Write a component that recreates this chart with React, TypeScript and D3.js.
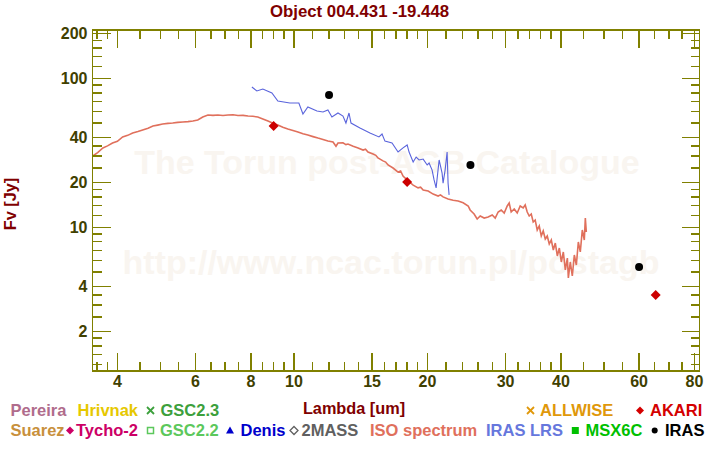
import React from "react";
import * as d3 from "d3";

const title = "Object 004.431 -19.448";

const xMajorTicks = [4, 6, 8, 10, 15, 20, 30, 40, 60, 80];
const xMinorTicks = [3.6, 3.8, 4.5, 5, 5.5, 6.5, 7, 7.5, 8.5, 9, 9.5, 11, 12, 13, 14, 16, 17, 18, 19, 22, 24, 26, 28, 32, 34, 36, 38, 45, 50, 55, 65, 70, 75];
const yMajorTicks = [2, 4, 10, 20, 40, 100, 200];
const yMinorTicks = [1.2, 1.4, 1.6, 1.8, 2.5, 3, 3.5, 5, 6, 7, 8, 9, 12, 14, 16, 18, 25, 30, 35, 50, 60, 70, 80, 90, 120, 140, 160, 180];

// ISO spectrum [lambda um, flux Jy]
const isoLambda = [
  3.52, 3.61, 3.71, 3.8, 3.9, 4.0, 4.11, 4.22, 4.33, 4.45, 4.56, 4.69, 4.81, 4.93, 5.06, 5.2, 5.33, 5.47, 5.62, 5.77,
  5.92, 6.07, 6.23, 6.4, 6.57, 6.74, 6.92, 7.1, 7.29, 7.48, 7.68, 7.88, 8.08, 8.29, 8.51, 8.74, 8.97, 9.2, 9.44, 9.69,
  9.95, 10.21, 10.48, 10.75, 11.04, 11.33, 11.63, 11.93, 12.25, 12.44, 12.57, 12.9, 13.1, 13.24, 13.6, 13.95, 14.32, 14.5, 14.69, 15.08,
  15.3, 15.47, 15.88, 16.1, 16.3, 16.73, 17.17, 17.4, 17.62, 18.09, 18.57, 19.05, 19.3, 19.56, 20.07, 20.6, 21.14, 21.4, 21.69, 22.26,
  22.85, 23.45, 24.07, 24.71, 24.96, 25.48, 25.89, 26.3, 26.85, 27.41, 27.99, 28.43, 28.87, 29.33, 29.79, 30.26, 30.57, 30.89, 31.38, 31.87,
  32.37, 32.87, 33.22, 33.57, 33.92, 34.28, 34.63, 34.99, 35.36, 35.73, 36.11, 36.48, 36.87, 37.25, 37.64, 38.04, 38.44, 38.84, 39.25, 39.66,
  40.07, 40.49, 40.91, 41.35, 41.56, 41.98, 42.42, 42.87, 43.32, 43.77, 44.22, 44.68, 45.15, 45.39, 45.62,
];
const isoFlux = [
  30.1, 31.7, 34.1, 35.2, 36.8, 37.8, 40.4, 41.4, 42.9, 43.9, 45.0, 46.3, 47.8, 48.5, 49.3, 49.8, 50.1, 50.6, 50.9, 51.2,
  51.7, 52.5, 55.0, 56.7, 56.4, 56.7, 56.3, 56.7, 56.9, 56.3, 56.4, 55.9, 55.6, 55.0, 53.3, 51.7, 50.0, 48.6, 47.0, 45.7,
  44.6, 43.6, 42.4, 41.6, 40.6, 39.7, 38.9, 37.9, 37.4, 35.0, 36.8, 36.9, 35.9, 36.2, 35.0, 34.1, 33.0, 33.4, 32.0, 31.0,
  30.4, 29.2, 27.9, 27.4, 26.2, 25.0, 23.5, 23.9, 22.1, 20.5, 19.2, 18.4, 18.6, 17.8, 17.5, 16.7, 16.2, 16.5, 16.0, 15.5,
  15.2, 15.0, 14.6, 13.9, 13.07, 12.28, 11.37, 11.91, 11.54, 11.72, 12.09, 11.54, 12.67, 13.07, 12.47, 13.9, 14.56, 12.67, 13.27, 12.47,
  13.9, 13.48, 14.12, 12.67, 11.91, 12.28, 10.85, 11.19, 9.59, 10.2, 8.74, 9.45, 8.35, 8.74, 7.72, 8.22, 7.04, 7.84, 6.42, 7.26,
  5.85, 6.83, 5.17, 6.22, 4.57, 5.85, 4.71, 6.52, 5.58, 7.97, 6.83, 9.59, 8.22, 11.54, 9.3,
];

// IRAS LRS spectrum
const lrsLambda = [
  8.04, 8.25, 8.51, 8.92, 9.2, 9.79, 10.26, 10.48, 10.75, 11.27, 11.63, 11.93, 12.18, 12.57, 12.9, 13.1, 13.31, 13.45, 14.09, 14.84,
  15.55, 15.8, 16.04, 16.64, 17.17, 17.62, 18.0, 18.18, 18.57, 18.86, 19.15, 19.56, 19.97, 20.17, 20.49, 20.7, 20.92, 21.25, 21.58, 21.69,
  21.92, 22.15, 22.26, 22.38,
];
const lrsFlux = [
  87.4, 82.2, 84.8, 79.7, 70.4, 68.3, 68.3, 57.6, 64.2, 60.3, 59.4, 61.3, 55.0, 58.5, 55.8, 50.1, 58.5, 50.1, 46.4, 42.9,
  40.4, 42.3, 37.9, 36.8, 32.0, 34.1, 35.7, 32.0, 27.4, 29.6, 28.3, 28.7, 26.2, 27.0, 24.2, 20.8, 18.4, 28.3, 23.1, 19.8,
  24.2, 32.0, 19.8, 16.5,
];

const irasLambda = [12, 25, 60];
const irasFlux = [77.3, 26.2, 5.41];
const akariLambda = [9.0, 18.0, 65.4];
const akariFlux = [47.9, 20.1, 3.51];

const legendRow1 = [
  { label: "Pereira", color: "#b06c8c", x: 10.5, marker: "", mx: 0 },
  { label: "Hrivnak", color: "#e6c800", x: 77.5, marker: "", mx: 0 },
  { label: "GSC2.3", color: "#3ca03c", x: 160.5, marker: "x", mx: 150.5 },
  { label: "ALLWISE", color: "#e0980a", x: 540, marker: "x", mx: 530.5 },
  { label: "AKARI", color: "#d40000", x: 650, marker: "diamond", mx: 640 },
];
const legendRow2 = [
  { label: "Suarez", color: "#c8903c", x: 10.5, marker: "", mx: 0 },
  { label: "Tycho-2", color: "#cc0066", x: 76, marker: "diamond", mx: 70 },
  { label: "GSC2.2", color: "#5cc85c", x: 160, marker: "square-open", mx: 150.5 },
  { label: "Denis", color: "#0000cc", x: 240.5, marker: "triangle", mx: 230 },
  { label: "2MASS", color: "#606060", x: 301.5, marker: "diamond-open", mx: 294 },
  { label: "ISO spectrum", color: "#e0705c", x: 370, marker: "", mx: 0 },
  { label: "IRAS LRS", color: "#6677dd", x: 486, marker: "", mx: 0 },
  { label: "MSX6C", color: "#00c000", x: 585.5, marker: "square", mx: 575.3 },
  { label: "IRAS", color: "#000000", x: 665, marker: "dot", mx: 654.7 },
];

const W = 720;
const H = 450;
const L = 92.5;
const R = 699.5;
const T = 30;
const B = 371;

const FONT = "'Liberation Sans', Arial, Helvetica, sans-serif";
const AXIS = "#808000";
const TICKTXT = "#404000";
const DARKRED = "#800000";

function Marker({ type, cx, cy, color }: { type: string; cx: number; cy: number; color: string }) {
  if (type === "x") {
    const s = 3.5;
    return (
      <g stroke={color} strokeWidth={1.8}>
        <line x1={cx - s} y1={cy - s} x2={cx + s} y2={cy + s} />
        <line x1={cx - s} y1={cy + s} x2={cx + s} y2={cy - s} />
      </g>
    );
  }
  if (type === "diamond" || type === "diamond-open") {
    const s = 4;
    const d = `M${cx},${cy - s}L${cx + s},${cy}L${cx},${cy + s}L${cx - s},${cy}Z`;
    return type === "diamond" ? (
      <path d={d} fill={color} />
    ) : (
      <path d={d} fill="none" stroke={color} strokeWidth={1.3} />
    );
  }
  if (type === "square-open") {
    return <rect x={cx - 3} y={cy - 3} width={6} height={6} fill="none" stroke={color} strokeWidth={1.5} />;
  }
  if (type === "square") {
    return <rect x={cx - 3.5} y={cy - 3.5} width={7} height={7} fill={color} />;
  }
  if (type === "triangle") {
    return <path d={`M${cx},${cy - 4}L${cx + 4},${cy + 3}L${cx - 4},${cy + 3}Z`} fill={color} />;
  }
  if (type === "dot") {
    return <circle cx={cx} cy={cy} r={3} fill={color} />;
  }
  return null;
}

export default function App() {
  const x = d3.scaleLog().domain([3.515, 82.1]).range([L, R]);
  const y = d3.scaleLog().domain([1.085, 211]).range([B, T]);

  const isoData = isoLambda.map((l, i) => [l, isoFlux[i]] as [number, number]);
  const lrsData = lrsLambda.map((l, i) => [l, lrsFlux[i]] as [number, number]);
  const line = d3
    .line<[number, number]>()
    .x((d) => x(d[0]))
    .y((d) => y(d[1]));

  const majorLen = 18;
  const minorLen = 9;

  return (
    <svg
      width={W}
      height={H}
      viewBox={`0 0 ${W} ${H}`}
      style={{ position: "absolute", left: 0, top: 0, background: "#fff" }}
      fontFamily={FONT}
      fontWeight="bold"
    >
      <rect x={0} y={0} width={W} height={H} fill="#ffffff" />
      {/* watermark */}
      <text x={387} y={174} textAnchor="middle" fontSize={34} fill="#f9f5f0">
        The Torun post-AGB Catalogue
      </text>
      <text x={391} y={274} textAnchor="middle" fontSize={34} fill="#f9f5f0">
        http://www.ncac.torun.pl/postagb
      </text>

      {/* title */}
      <text x={359.5} y={17} textAnchor="middle" fontSize={16.8} fill={DARKRED}>
        {title}
      </text>

      <defs>
        <clipPath id="plotclip">
          <rect x={L} y={T} width={R - L} height={B - T} />
        </clipPath>
      </defs>

      {/* data */}
      <g clipPath="url(#plotclip)">
        <path d={line(isoData) || ""} fill="none" stroke="#e0705c" strokeWidth={1.6} />
        <path d={line(lrsData) || ""} fill="none" stroke="#5a64dc" strokeWidth={1.1} />
        {irasLambda.map((l, i) => (
          <circle key={"ir" + i} cx={x(l)} cy={y(irasFlux[i])} r={4} fill="#000" />
        ))}
        {akariLambda.map((l, i) => {
          const cx = x(l);
          const cy = y(akariFlux[i]);
          const s = 5;
          return (
            <path
              key={"ak" + i}
              d={`M${cx},${cy - s}L${cx + s},${cy}L${cx},${cy + s}L${cx - s},${cy}Z`}
              fill="#cc0000"
            />
          );
        })}
      </g>

      {/* axes frame and ticks */}
      <g stroke={AXIS} strokeWidth={1.5} shapeRendering="crispEdges">
        <rect x={L} y={T} width={R - L} height={B - T} fill="none" />
        {xMajorTicks.map((t) => (
          <g key={"xM" + t}>
            <line x1={x(t)} x2={x(t)} y1={B} y2={B - majorLen} />
            <line x1={x(t)} x2={x(t)} y1={T} y2={T + majorLen} />
          </g>
        ))}
        {xMinorTicks.map((t) => (
          <g key={"xm" + t}>
            <line x1={x(t)} x2={x(t)} y1={B} y2={B - minorLen} />
            <line x1={x(t)} x2={x(t)} y1={T} y2={T + minorLen} />
          </g>
        ))}
        {yMajorTicks.map((t) => (
          <g key={"yM" + t}>
            <line x1={L} x2={L + majorLen} y1={y(t)} y2={y(t)} />
            <line x1={R} x2={R - majorLen} y1={y(t)} y2={y(t)} />
          </g>
        ))}
        {yMinorTicks.map((t) => (
          <g key={"ym" + t}>
            <line x1={L} x2={L + minorLen} y1={y(t)} y2={y(t)} />
            <line x1={R} x2={R - minorLen} y1={y(t)} y2={y(t)} />
          </g>
        ))}
      </g>

      {/* tick labels */}
      <g fill={TICKTXT} fontSize={16}>
        {xMajorTicks.map((t) => (
          <text key={"xl" + t} x={x(t)} y={387} textAnchor="middle">
            {t}
          </text>
        ))}
        {yMajorTicks.map((t) => (
          <text key={"yl" + t} x={87.5} y={y(t) + 5.5} textAnchor="end">
            {t}
          </text>
        ))}
      </g>

      {/* axis titles */}
      <text x={354} y={414} textAnchor="middle" fontSize={16.3} fill={DARKRED}>
        Lambda [um]
      </text>
      <text
        transform={`translate(16,204) rotate(-90)`}
        textAnchor="middle"
        fontSize={16.3}
        fill={DARKRED}
      >
        Fv [Jy]
      </text>

      {/* legend */}
      <g fontSize={16.5}>
        {legendRow1.map((e) => (
          <g key={"l1" + e.label}>
            <Marker type={e.marker} cx={e.mx} cy={410.5} color={e.color} />
            <text x={e.x} y={416} fill={e.color}>
              {e.label}
            </text>
          </g>
        ))}
        {legendRow2.map((e) => (
          <g key={"l2" + e.label}>
            <Marker type={e.marker} cx={e.mx} cy={430.5} color={e.color} />
            <text x={e.x} y={436} fill={e.color}>
              {e.label}
            </text>
          </g>
        ))}
      </g>
    </svg>
  );
}
